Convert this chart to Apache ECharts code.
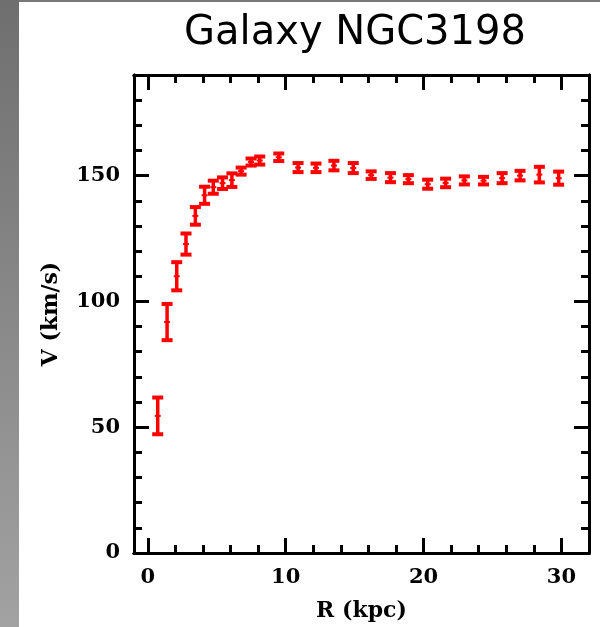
<!DOCTYPE html>
<html>
<head>
<meta charset="utf-8">
<script src="https://cdn.jsdelivr.net/npm/echarts@6/dist/echarts.min.js"></script>
<style>html,body{margin:0;padding:0;background:#fff}#c{width:600px;height:627px}</style>
</head>
<body>
<div id="c"></div>
<script>
// ---- data ----
const radiusKpc = [0.72, 1.40, 2.10, 2.77, 3.45, 4.12, 4.75, 5.42, 6.10, 6.77, 7.49, 8.12, 9.50, 10.9, 12.2, 13.5, 14.9, 16.2, 17.6, 18.9, 20.3, 21.6, 22.96, 24.35, 25.7, 27.0, 28.4, 29.8];
const velocity = [54.5, 91.8, 110.0, 122.8, 134.0, 142.2, 145.4, 147.0, 148.2, 151.8, 155.4, 156.0, 157.3, 153.2, 153.1, 154.0, 153.0, 150.2, 149.2, 148.6, 146.6, 147.1, 148.1, 148.0, 149.0, 150.0, 150.4, 149.0];
const velErr = [7.3, 7.2, 5.6, 4.2, 3.5, 3.4, 2.6, 2.3, 2.7, 1.4, 1.4, 1.6, 1.5, 1.8, 1.7, 1.9, 2.0, 1.5, 1.8, 1.6, 1.8, 1.7, 1.6, 1.5, 2.0, 1.9, 3.1, 2.6];
const xMajorTicks = [0, 10, 20, 30];
const xMinorTicks = [2, 4, 6, 8, 12, 14, 16, 18, 22, 24, 26, 28];
const yMajorTicks = [0, 50, 100, 150];
const yMinorTicks = [10, 20, 30, 40, 60, 70, 80, 90, 110, 120, 130, 140, 160, 170, 180];
const titleText = 'Galaxy NGC3198';
const xName = 'R (kpc)';
const yName = 'V (km/s)';

const errData = radiusKpc.map((r, i) => [r, velocity[i], velErr[i]]);

const labelFont = {fontFamily: 'DejaVu Serif', fontWeight: 'bold', fontSize: 21, color: '#000'};
const lineStyle = {color: '#000', width: 3};

function xAxisDef(pos, ticks, len, labels, extra) {
  return Object.assign({
    type: 'value', position: pos, min: -1, max: 32,
    axisLine: {show: true, onZero: false, lineStyle: lineStyle},
    axisTick: {show: true, inside: true, length: len, lineStyle: {color: '#000', width: 3}, customValues: ticks},
    axisLabel: labels ? Object.assign({show: true, margin: 14, customValues: ticks}, labelFont) : {show: false},
    splitLine: {show: false}
  }, extra || {});
}
function yAxisDef(pos, ticks, len, labels, extra) {
  return Object.assign({
    type: 'value', position: pos, min: 0, max: 190,
    axisLine: {show: true, onZero: false, lineStyle: lineStyle},
    axisTick: {show: true, inside: true, length: len, lineStyle: {color: '#000', width: 3}, customValues: ticks},
    axisLabel: labels ? Object.assign({show: true, margin: 14, customValues: ticks}, labelFont) : {show: false},
    splitLine: {show: false}
  }, extra || {});
}

const chart = echarts.init(document.getElementById('c'), null, {renderer: 'canvas'});
chart.setOption({
  backgroundColor: '#fff',
  animation: false,
  graphic: [
    {type: 'rect', shape: {x: 0, y: 0, width: 600, height: 2}, style: {fill: '#777'}, z: 100},
    {type: 'rect', shape: {x: 0, y: 0, width: 19, height: 627},
      style: {fill: new echarts.graphic.LinearGradient(0, 0, 0, 1, [{offset: 0, color: '#6f6f6f'}, {offset: 1, color: '#a2a2a2'}])}, z: 100},
    {type: 'text', x: 355, y: 14, z: 100,
      style: {text: titleText, fontFamily: 'DejaVu Sans', fontSize: 40, fill: '#000', align: 'center', verticalAlign: 'top'}}
  ],
  grid: {left: 134, right: 11, top: 75, bottom: 72, containLabel: false},
  xAxis: [
    xAxisDef('bottom', xMajorTicks, 15, true, {name: xName, nameLocation: 'middle', nameGap: 47,
      nameTextStyle: Object.assign({}, labelFont, {fontSize: 22})}),
    xAxisDef('bottom', xMinorTicks, 8, false),
    xAxisDef('top', xMajorTicks, 15, false),
    xAxisDef('top', xMinorTicks, 8, false)
  ],
  yAxis: [
    yAxisDef('left', yMajorTicks, 15, true, {name: yName, nameLocation: 'middle', nameGap: 72, nameRotate: 90,
      nameTextStyle: Object.assign({}, labelFont, {fontSize: 22})}),
    yAxisDef('left', yMinorTicks, 8, false),
    yAxisDef('right', yMajorTicks, 15, false),
    yAxisDef('right', yMinorTicks, 8, false)
  ],
  series: [{
    type: 'custom',
    xAxisIndex: 0, yAxisIndex: 0,
    data: errData,
    renderItem: function (params, api) {
      const x = api.value(0), v = api.value(1), e = api.value(2);
      const top = api.coord([x, v + e]);
      const bot = api.coord([x, v - e]);
      const mid = api.coord([x, v]);
      const st = {stroke: '#ff0000', lineWidth: 3.5, lineCap: 'butt'};
      const cap = {stroke: '#ff0000', lineWidth: 4, lineCap: 'butt'};
      return {
        type: 'group',
        children: [
          {type: 'line', shape: {x1: top[0], y1: top[1], x2: bot[0], y2: bot[1]}, style: st},
          {type: 'line', shape: {x1: top[0] - 5.5, y1: top[1], x2: top[0] + 5.5, y2: top[1]}, style: cap},
          {type: 'line', shape: {x1: bot[0] - 5.5, y1: bot[1], x2: bot[0] + 5.5, y2: bot[1]}, style: cap},
          {type: 'rect', shape: {x: mid[0] - 3, y: mid[1] - 1, width: 6, height: 2}, style: {fill: '#ff0000'}}
        ]
      };
    }
  }]
});
</script>
</body>
</html>
